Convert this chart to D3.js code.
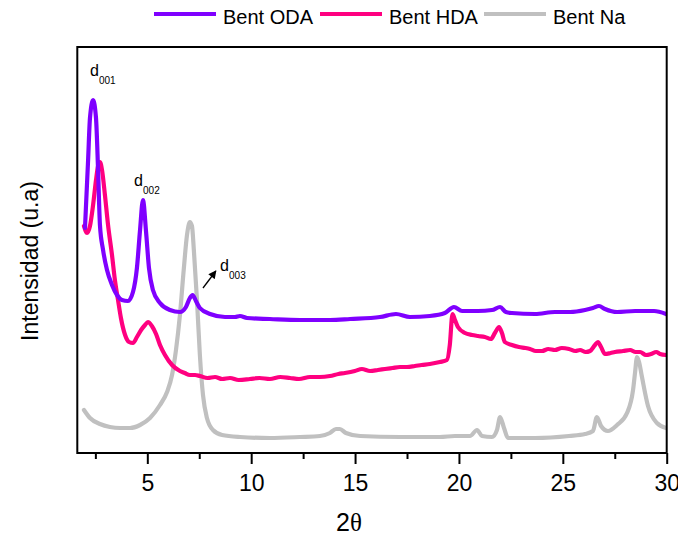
<!DOCTYPE html>
<html>
<head>
<meta charset="utf-8">
<script src="https://cdn.jsdelivr.net/npm/d3@7"></script>
<style>
	body { margin: 0; background: #fff; }
	text { font-family: "Liberation Sans", Arial, sans-serif; fill: #000; }
</style>
</head>
<body>
<div id="root"></div>
<script>
// -- data (2 theta, intensity in a.u.) --
const seriesNames = ['Bent ODA', 'Bent HDA', 'Bent Na']
const seriesColors = ['#7f00ff', '#ff0080', '#c0c0c0']

const bentODA = [
	[2.00, 225], [2.15, 293], [2.24, 335], [2.39, 353], [2.53, 335], [2.63, 283], [2.72, 228],
	[2.87, 203], [3.06, 183], [3.30, 168], [3.54, 158], [3.78, 153], [4.07, 152], [4.31, 161],
	[4.50, 185], [4.65, 223], [4.79, 253], [4.94, 221], [5.08, 185], [5.27, 163], [5.61, 150],
	[6.09, 143], [6.57, 141], [6.86, 146], [7.05, 155], [7.18, 158], [7.34, 152], [7.53, 145],
	[8.02, 139], [8.74, 136], [9.22, 136], [9.46, 137], [9.80, 135], [10.90, 134], [12.35, 133],
	[13.79, 133], [14.76, 134], [16.20, 136], [16.97, 139], [17.64, 136], [18.60, 137], [19.32, 140],
	[19.76, 146], [20.15, 142], [20.92, 142], [21.59, 143], [21.98, 146], [22.26, 141], [22.55, 140],
	[23.66, 139], [24.62, 141], [25.35, 141], [26.07, 143], [26.45, 145], [26.74, 147], [27.03, 144],
	[27.61, 141], [28.48, 142], [29.39, 142], [29.97, 139]
]

const bentHDA = [
	[1.95, 227], [2.10, 220], [2.24, 227], [2.39, 248], [2.53, 273], [2.63, 287], [2.72, 291],
	[2.82, 283], [2.96, 258], [3.11, 228], [3.30, 198], [3.44, 173], [3.59, 153], [3.73, 135],
	[3.93, 118], [4.12, 111], [4.31, 110], [4.50, 116], [4.70, 123], [4.89, 128], [5.03, 131],
	[5.22, 127], [5.42, 119], [5.61, 108], [5.85, 98], [6.19, 88], [6.57, 82], [6.80, 80],
	[7.05, 78], [7.30, 78], [7.53, 77], [7.90, 75], [8.26, 76], [8.60, 74], [8.98, 75],
	[9.40, 73], [9.94, 74], [10.40, 75], [10.90, 74], [11.40, 76], [11.87, 75], [12.30, 74],
	[12.83, 76], [13.30, 76], [13.79, 77], [14.20, 79], [14.51, 80], [14.99, 82], [15.33, 84],
	[15.72, 82], [16.10, 83], [16.44, 84], [16.80, 85], [17.16, 86], [17.50, 86], [17.88, 87],
	[18.20, 88], [18.60, 89], [19.08, 91], [19.42, 93], [19.56, 108], [19.69, 139], [19.81, 133],
	[19.95, 126], [20.29, 120], [20.63, 118], [20.92, 117], [21.25, 116], [21.54, 114], [21.73, 120],
	[21.93, 126], [22.07, 120], [22.21, 111], [22.55, 108], [22.89, 106], [23.20, 105], [23.42, 104],
	[23.70, 102], [24.00, 102], [24.30, 104], [24.62, 103], [24.95, 105], [25.30, 104], [25.60, 102],
	[25.83, 103], [26.10, 101], [26.31, 102], [26.55, 108], [26.69, 111], [26.84, 106], [27.03, 99],
	[27.30, 100], [27.51, 101], [27.90, 102], [28.24, 103], [28.50, 101], [28.72, 101], [29.00, 98],
	[29.24, 99], [29.50, 101], [29.68, 99], [29.97, 98]
]

const bentNa = [
	[1.95, 43], [2.24, 35], [2.72, 29], [3.20, 26], [3.69, 25], [4.17, 25], [4.65, 28],
	[5.13, 35], [5.61, 48], [5.95, 61], [6.19, 78], [6.38, 103], [6.57, 138], [6.76, 185],
	[6.91, 218], [7.05, 231], [7.15, 227], [7.24, 203], [7.39, 153], [7.53, 98], [7.68, 58],
	[7.87, 35], [8.16, 23], [8.60, 18], [9.46, 16], [10.90, 15], [12.35, 16], [13.31, 17],
	[13.79, 20], [14.08, 24], [14.27, 24], [14.56, 20], [15.24, 17], [17.16, 16], [19.08, 16],
	[19.81, 17], [20.53, 17], [20.87, 23], [21.11, 17], [21.59, 16], [21.83, 23], [21.98, 36],
	[22.17, 25], [22.36, 15], [23.66, 15], [25.30, 17], [26.07, 19], [26.45, 22], [26.64, 36],
	[26.84, 27], [27.17, 22], [27.61, 28], [28.09, 40], [28.38, 63], [28.48, 81], [28.57, 96],
	[28.67, 91], [28.81, 76], [29.10, 47], [29.53, 30], [29.97, 25]
]

const majorTicks = [5, 10, 15, 20, 25, 30]
const minorTicks = [2.5, 7.5, 12.5, 17.5, 22.5, 27.5]

// peak labels: [label, sub, x, y] in data units, arrow [x1, y1, x2, y2]
const peakLabels = [
	['d', '001', 2.24, 377],
	['d', '002', 4.36, 267],
	['d', '003', 8.50, 182]
]
const peakArrow = [7.68, 165, 8.30, 182]

const C = {
	width: 678,
	height: 539,
	left: 77.3,
	right: 666.7,
	top: 47,
	bottom: 453
}

const svg = d3.select('#root').append('svg')
	.attr('width', C.width)
	.attr('height', C.height)

const x = d3.scaleLinear()
	.domain([1.63, 30])
	.range([C.left, C.right])

const y = d3.scaleLinear()
	.domain([0, 406])
	.range([C.bottom, C.top])

svg.append('defs').append('clipPath')
	.attr('id', 'plotClip')
	.append('rect')
	.attr('x', C.left).attr('y', C.top)
	.attr('width', C.right - C.left).attr('height', C.bottom - C.top)

svg.select('defs').append('marker')
	.attr('id', 'arrowHead')
	.attr('viewBox', '0 0 10 10')
	.attr('refX', 9).attr('refY', 5)
	.attr('markerWidth', 10).attr('markerHeight', 8)
	.attr('markerUnits', 'userSpaceOnUse')
	.attr('orient', 'auto')
	.append('path')
	.attr('d', 'M0,0 L10,5 L0,10 z')
	.attr('fill', '#000')

// -- lines --
const line = d3.line()
	.x(d => x(d[0]))
	.y(d => y(d[1]))
	.curve(d3.curveMonotoneX)

const allSeries = [bentODA, bentHDA, bentNa]

const plot = svg.append('g').attr('clip-path', 'url(#plotClip)')
// drawn Na first so ODA sits on top
;[2, 1, 0].forEach(i => {
	plot.append('path')
		.datum(allSeries[i])
		.attr('d', line)
		.attr('fill', 'none')
		.attr('stroke', seriesColors[i])
		.attr('stroke-width', 4.2)
		.attr('stroke-linejoin', 'round')
		.attr('stroke-linecap', 'round')
})

// -- frame --
svg.append('rect')
	.attr('x', C.left).attr('y', C.top)
	.attr('width', C.right - C.left).attr('height', C.bottom - C.top)
	.attr('fill', 'none')
	.attr('stroke', '#000')
	.attr('stroke-width', 2)

// -- axis --
const axisMajor = svg.append('g')
	.attr('transform', `translate(0,${C.bottom})`)
	.call(d3.axisBottom(x).tickValues(majorTicks).tickSize(11).tickPadding(11).tickFormat(d3.format('d')))
axisMajor.select('.domain').remove()
axisMajor.selectAll('line').attr('stroke-width', 2)
axisMajor.selectAll('text').style('font-size', '23px').style('font-family', '"Liberation Sans", Arial, sans-serif')

const axisMinor = svg.append('g')
	.attr('transform', `translate(0,${C.bottom})`)
	.call(d3.axisBottom(x).tickValues(minorTicks).tickSize(6).tickFormat(''))
axisMinor.select('.domain').remove()
axisMinor.selectAll('line').attr('stroke-width', 2)

// axis titles
const xTitle = svg.append('text')
	.attr('x', 349)
	.attr('y', 531)
	.attr('text-anchor', 'middle')
	.style('font-size', '25px')
xTitle.append('tspan').text('2')
xTitle.append('tspan').style('font-family', '"Liberation Serif", serif').text('θ')

svg.append('text')
	.attr('transform', 'translate(38,261) rotate(-90)')
	.attr('text-anchor', 'middle')
	.style('font-size', '23px')
	.text('Intensidad (u.a)')

// -- peak labels --
peakLabels.forEach(p => {
	svg.append('text')
		.attr('x', x(p[2]))
		.attr('y', y(p[3]))
		.style('font-size', '16px')
		.text(p[0])
	svg.append('text')
		.attr('x', x(p[2]) + 9)
		.attr('y', y(p[3]) + 7.5)
		.style('font-size', '10px')
		.text(p[1])
})

svg.append('line')
	.attr('x1', x(peakArrow[0])).attr('y1', y(peakArrow[1]))
	.attr('x2', x(peakArrow[2])).attr('y2', y(peakArrow[3]))
	.attr('stroke', '#000')
	.attr('stroke-width', 1.3)
	.attr('marker-end', 'url(#arrowHead)')

// -- legend --
const legendX = [154, 320, 484]
const legend = svg.append('g')
seriesNames.forEach((name, i) => {
	legend.append('line')
		.attr('x1', legendX[i]).attr('x2', legendX[i] + 62)
		.attr('y1', 14).attr('y2', 14)
		.attr('stroke', seriesColors[i])
		.attr('stroke-width', 4)
	legend.append('text')
		.attr('x', legendX[i] + 69)
		.attr('y', 24)
		.style('font-size', '20px')
		.text(name)
})
</script>
</body>
</html>
